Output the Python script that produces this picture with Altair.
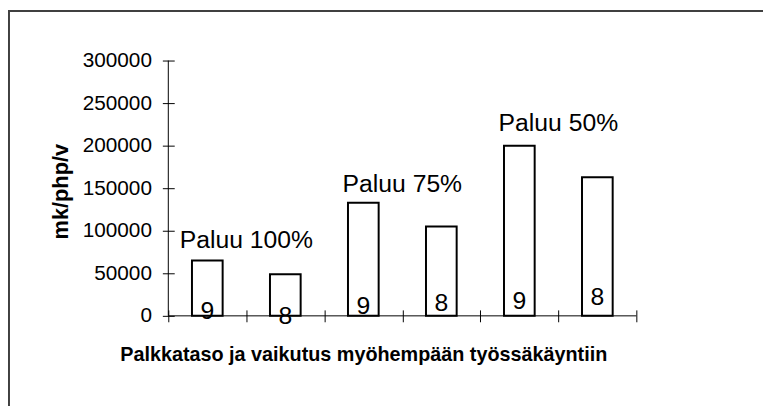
import altair as alt
import pandas as pd

# ---- data ----
categories = ["100% / 9", "100% / 8", "75% / 9", "75% / 8", "50% / 9", "50% / 8"]
values = [65000, 49000, 133000, 105000, 200000, 163000]
bar_labels = ["9", "8", "9", "8", "9", "8"]
label_anchor = [-3500, -10000, 2500, 6000, 8000, 13000]

annot_text = ["Paluu 100%", "Paluu 75%", "Paluu 50%"]
annot_cat = ["100% / 8", "75% / 8", "50% / 8"]
annot_anchor = [80000, 145000, 217000]

y_ticks = [0, 50000, 100000, 150000, 200000, 250000, 300000]

FONT = "Liberation Sans"
W, H = 473, 258

bars_df = pd.DataFrame({"cat": categories, "value": values,
                        "lab": bar_labels, "ly": label_anchor})
annot_df = pd.DataFrame({"cat": annot_cat, "txt": annot_text, "ay": annot_anchor})
one = pd.DataFrame({"a": [0]})

x_scale = alt.Scale(domain=categories, paddingInner=0, paddingOuter=0)
y_scale = alt.Scale(domain=[0, 300000], nice=False, zero=True)

x_axis = alt.Axis(labels=False, tickBand="extent", tickSize=12, offset=-6,
                  domain=False, grid=False, tickColor="black", tickWidth=1,
                  title="Palkkataso ja vaikutus myöhempään työssäkäyntiin",
                  titleFont=FONT, titleFontSize=20, titleFontWeight="bold",
                  titleColor="black", titleX=197, titleY=51,
                  titleAlign="center", titleBaseline="alphabetic")
y_axis = alt.Axis(values=y_ticks, format="d", tickSize=12, offset=-6,
                  domain=False, grid=False, tickColor="black", tickWidth=1,
                  labelFont=FONT, labelFontSize=21, labelColor="black",
                  labelPadding=11,
                  title="mk/php/v", titleFont=FONT, titleFontSize=22,
                  titleFontWeight="bold", titleColor="black",
                  titleAngle=270, titleX=-108, titleY=132,
                  titleAlign="center", titleBaseline="alphabetic")

bars = alt.Chart(bars_df).mark_bar(size=31, fill="white", stroke="black",
                                   strokeWidth=2).encode(
    x=alt.X("cat:N", scale=x_scale, axis=x_axis, sort=categories),
    y=alt.Y("value:Q", scale=y_scale, axis=y_axis),
)

labels = alt.Chart(bars_df).mark_text(font=FONT, fontSize=25, color="black",
                                      align="center", baseline="alphabetic").encode(
    x=alt.X("cat:N", scale=x_scale, sort=categories),
    y=alt.Y("ly:Q", scale=y_scale),
    text="lab:N",
)

annots = alt.Chart(annot_df).mark_text(font=FONT, fontSize=25, color="black",
                                       align="center", baseline="alphabetic").encode(
    x=alt.X("cat:N", scale=x_scale, sort=categories, bandPosition=0),
    y=alt.Y("ay:Q", scale=y_scale),
    text="txt:N",
)

y_domain = alt.Chart(one).mark_rule(color="black", strokeWidth=1).encode(
    x=alt.value(0), y=alt.value(0), y2=alt.value(H))
x_domain = alt.Chart(one).mark_rule(color="black", strokeWidth=1).encode(
    x=alt.value(0), x2=alt.value(W), y=alt.value(H))

frame_left = alt.Chart(one).mark_rule(color="#404040", strokeWidth=2).encode(
    x=alt.value(-161), y=alt.value(-50), y2=alt.value(350))
frame_top = alt.Chart(one).mark_rule(color="#404040", strokeWidth=2).encode(
    x=alt.value(-162), x2=alt.value(602), y=alt.value(-50))

chart = alt.layer(frame_left, frame_top, bars, y_domain, x_domain, labels, annots).properties(
    width=W, height=H,
    autosize=alt.AutoSizeParams(type="none"),
    padding={"left": 162, "top": 51, "right": 128, "bottom": 89},
    background="white",
).configure_view(stroke=None)

chart.save("out.html", embed_options={"renderer": "svg", "actions": False})
